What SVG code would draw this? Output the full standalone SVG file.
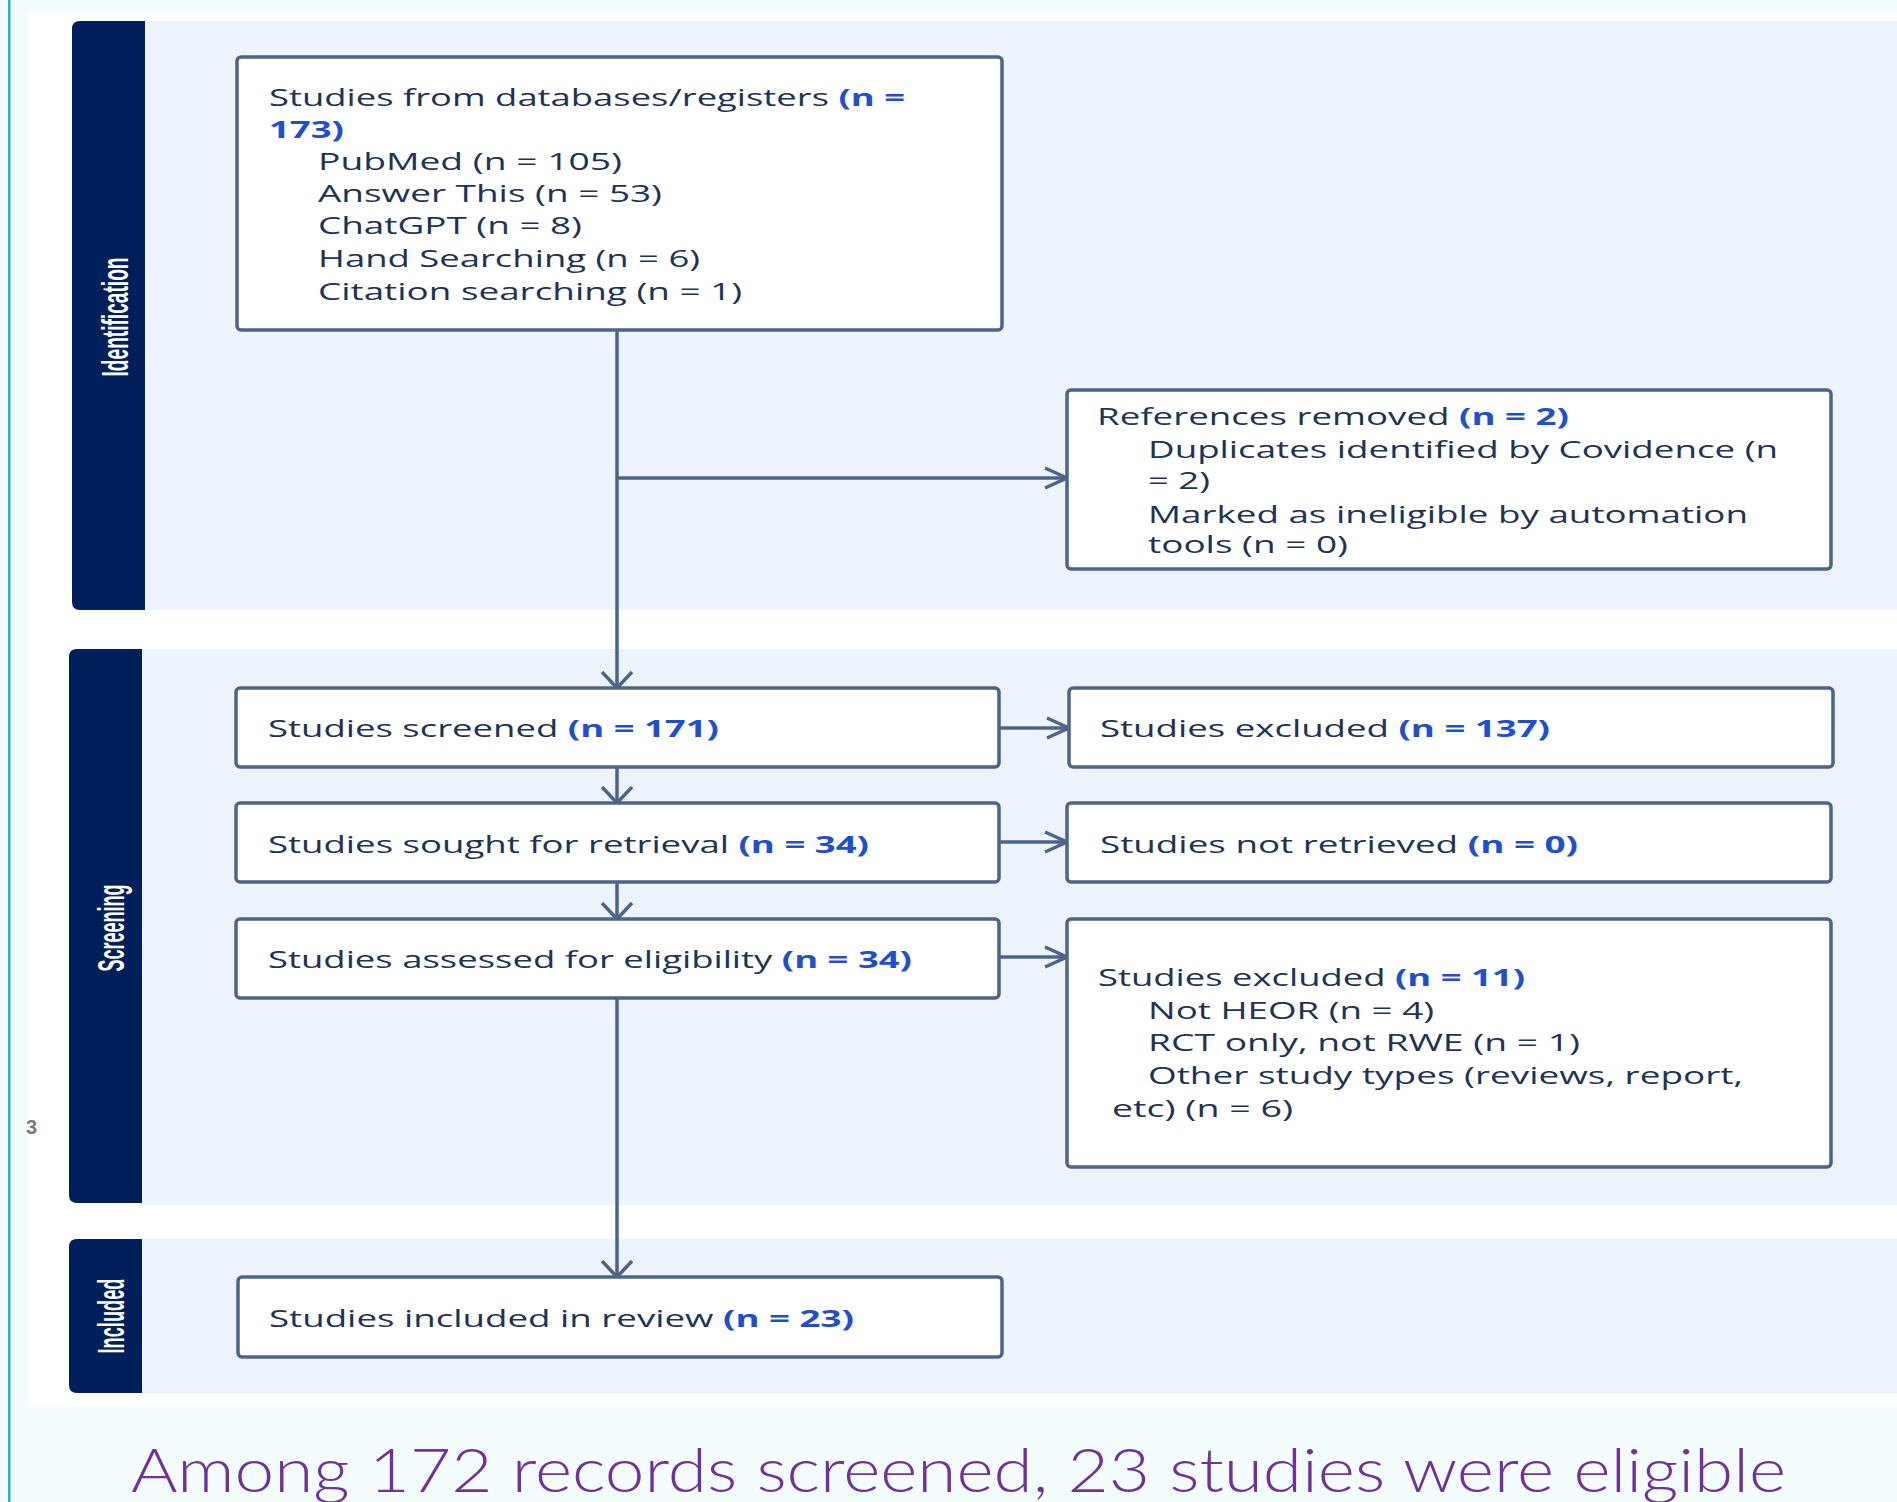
<svg xmlns="http://www.w3.org/2000/svg" width="1897" height="1502" viewBox="0 0 1897 1502">
<defs>
<style>
.panel{fill:#eef4fd}
.band{fill:#001f5b}
.box{fill:#ffffff;stroke:#4d6489;stroke-width:3.5}
.t{font-family:"Open Sans","Noto Sans","DejaVu Sans",sans-serif;font-size:23px;fill:#1e3355}
.n{font-weight:bold;fill:#1f4fd1}
.lab{font-family:"Liberation Sans","DejaVu Sans",sans-serif;font-weight:bold;font-size:37px;fill:#ffffff}
.con{fill:none;stroke:#4d6489;stroke-width:3.5}
</style>
<marker id="ah" markerUnits="userSpaceOnUse" viewBox="0 0 26 24" markerWidth="26" markerHeight="24" refX="23" refY="12" orient="auto">
<path d="M1,2 L23,12 L1,22" fill="none" stroke="#4d6489" stroke-width="3.5"/>
</marker>
<marker id="av" markerUnits="userSpaceOnUse" viewBox="0 0 20 34" markerWidth="20" markerHeight="34" refX="17" refY="17" orient="auto">
<path d="M1,2 L17,17 L1,32" fill="none" stroke="#4d6489" stroke-width="3.5"/>
</marker>
</defs>
<rect x="0" y="0" width="1897" height="1502" fill="#f4fdfe"/>
<rect x="8" y="0" width="2.5" height="1502" fill="#1bbcc6"/>
<rect x="28" y="12" width="1869" height="1394" fill="#ffffff"/>
<g id="phase-identification">
<rect class="panel" x="145" y="21" width="1752" height="589"/>
<path class="band" d="M145,21 L80,21 Q72,21 72,29 L72,602 Q72,610 80,610 L145,610 Z"/>
<text class="lab" transform="translate(128,317) rotate(-90)" text-anchor="middle" textLength="119" lengthAdjust="spacingAndGlyphs">Identification</text>
</g>
<g id="phase-screening">
<rect class="panel" x="142" y="649" width="1755" height="556"/>
<path class="band" d="M142,649 L77,649 Q69,649 69,657 L69,1195 Q69,1203 77,1203 L142,1203 Z"/>
<text class="lab" transform="translate(124,928) rotate(-90)" text-anchor="middle" textLength="87" lengthAdjust="spacingAndGlyphs">Screening</text>
</g>
<g id="phase-included">
<rect class="panel" x="142" y="1239" width="1755" height="154"/>
<path class="band" d="M142,1239 L77,1239 Q69,1239 69,1247 L69,1385 Q69,1393 77,1393 L142,1393 Z"/>
<text class="lab" transform="translate(124,1316) rotate(-90)" text-anchor="middle" textLength="75" lengthAdjust="spacingAndGlyphs">Included</text>
</g>
<text x="26" y="1134" font-family="Liberation Sans, sans-serif" font-size="20" font-weight="bold" fill="#7a7a7a">3</text>
<g id="connectors">
<line class="con" x1="617" y1="330" x2="617" y2="688" marker-end="url(#av)"/>
<line class="con" x1="617" y1="478" x2="1067" y2="478" marker-end="url(#ah)"/>
<line class="con" x1="617" y1="767" x2="617" y2="803" marker-end="url(#av)"/>
<line class="con" x1="617" y1="882" x2="617" y2="919" marker-end="url(#av)"/>
<line class="con" x1="617" y1="998" x2="617" y2="1277" marker-end="url(#av)"/>
<line class="con" x1="999" y1="728" x2="1069" y2="728" marker-end="url(#ah)"/>
<line class="con" x1="999" y1="842" x2="1067" y2="842" marker-end="url(#ah)"/>
<line class="con" x1="999" y1="957" x2="1067" y2="957" marker-end="url(#ah)"/>
</g>
<g id="node-identified">
<rect class="box" x="237" y="57" width="765" height="273" rx="4"/>
<text class="t" x="269" y="106" textLength="636" lengthAdjust="spacingAndGlyphs">Studies from databases/registers <tspan class="n">(n =</tspan></text>
<text class="t" x="269" y="138" textLength="75" lengthAdjust="spacingAndGlyphs"><tspan class="n">173)</tspan></text>
<text class="t" x="318" y="170" textLength="304" lengthAdjust="spacingAndGlyphs">PubMed (n = 105)</text>
<text class="t" x="318" y="202" textLength="344" lengthAdjust="spacingAndGlyphs">Answer This (n = 53)</text>
<text class="t" x="318" y="234" textLength="264" lengthAdjust="spacingAndGlyphs">ChatGPT (n = 8)</text>
<text class="t" x="318" y="267" textLength="382" lengthAdjust="spacingAndGlyphs">Hand Searching (n = 6)</text>
<text class="t" x="318" y="300" textLength="424" lengthAdjust="spacingAndGlyphs">Citation searching (n = 1)</text>
</g>
<g id="node-removed">
<rect class="box" x="1067" y="390" width="764" height="179" rx="4"/>
<text class="t" x="1097" y="425" textLength="472" lengthAdjust="spacingAndGlyphs">References removed <tspan class="n">(n = 2)</tspan></text>
<text class="t" x="1148" y="458" textLength="630" lengthAdjust="spacingAndGlyphs">Duplicates identified by Covidence (n</text>
<text class="t" x="1148" y="489" textLength="62" lengthAdjust="spacingAndGlyphs">= 2)</text>
<text class="t" x="1148" y="523" textLength="600" lengthAdjust="spacingAndGlyphs">Marked as ineligible by automation</text>
<text class="t" x="1148" y="553" textLength="200" lengthAdjust="spacingAndGlyphs">tools (n = 0)</text>
</g>
<g id="node-screened">
<rect class="box" x="236" y="688" width="763" height="79" rx="4"/>
<text class="t" x="268" y="737" textLength="451" lengthAdjust="spacingAndGlyphs">Studies screened <tspan class="n">(n = 171)</tspan></text>
</g>
<g id="node-excluded-screening">
<rect class="box" x="1069" y="688" width="764" height="79" rx="4"/>
<text class="t" x="1100" y="737" textLength="450" lengthAdjust="spacingAndGlyphs">Studies excluded <tspan class="n">(n = 137)</tspan></text>
</g>
<g id="node-sought">
<rect class="box" x="236" y="803" width="763" height="79" rx="4"/>
<text class="t" x="268" y="853" textLength="601" lengthAdjust="spacingAndGlyphs">Studies sought for retrieval <tspan class="n">(n = 34)</tspan></text>
</g>
<g id="node-not-retrieved">
<rect class="box" x="1067" y="803" width="764" height="79" rx="4"/>
<text class="t" x="1100" y="853" textLength="478" lengthAdjust="spacingAndGlyphs">Studies not retrieved <tspan class="n">(n = 0)</tspan></text>
</g>
<g id="node-assessed">
<rect class="box" x="236" y="919" width="763" height="79" rx="4"/>
<text class="t" x="268" y="968" textLength="644" lengthAdjust="spacingAndGlyphs">Studies assessed for eligibility <tspan class="n">(n = 34)</tspan></text>
</g>
<g id="node-excluded-eligibility">
<rect class="box" x="1067" y="919" width="764" height="248" rx="4"/>
<text class="t" x="1098" y="986" textLength="427" lengthAdjust="spacingAndGlyphs">Studies excluded <tspan class="n">(n = 11)</tspan></text>
<text class="t" x="1148" y="1019" textLength="286" lengthAdjust="spacingAndGlyphs">Not HEOR (n = 4)</text>
<text class="t" x="1148" y="1051" textLength="432" lengthAdjust="spacingAndGlyphs">RCT only, not RWE (n = 1)</text>
<text class="t" x="1148" y="1084" textLength="595" lengthAdjust="spacingAndGlyphs">Other study types (reviews, report,</text>
<text class="t" x="1112" y="1117" textLength="181" lengthAdjust="spacingAndGlyphs">etc) (n = 6)</text>
</g>
<g id="node-included">
<rect class="box" x="238" y="1277" width="764" height="80" rx="4"/>
<text class="t" x="269" y="1327" textLength="585" lengthAdjust="spacingAndGlyphs">Studies included in review <tspan class="n">(n = 23)</tspan></text>
</g>
<text x="131" y="1492" font-family="Lato, 'Open Sans', sans-serif" font-weight="300" font-size="62" fill="#7030a0" textLength="1655" lengthAdjust="spacingAndGlyphs">Among 172 records screened, 23 studies were eligible</text>
</svg>
